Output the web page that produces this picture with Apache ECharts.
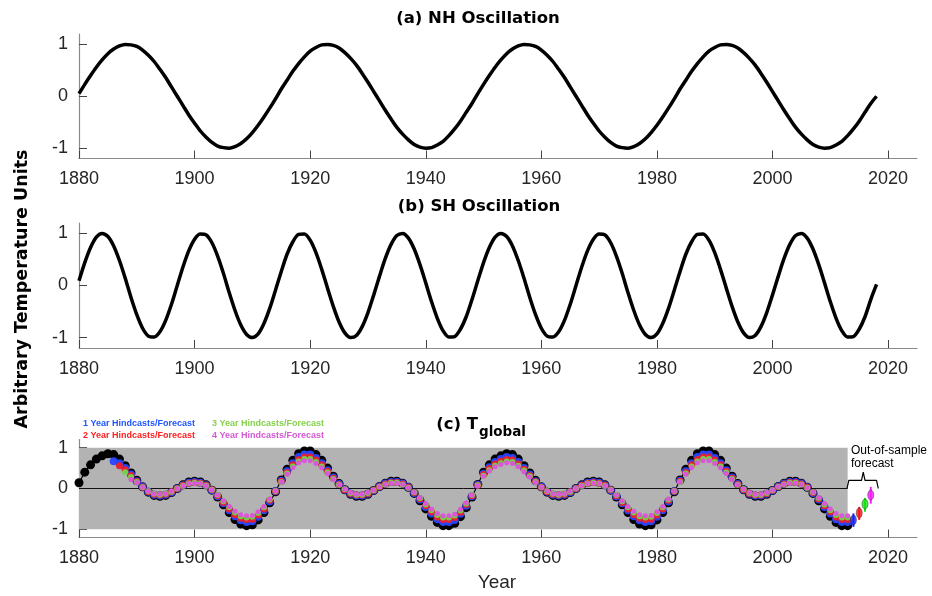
<!DOCTYPE html>
<html>
<head>
<meta charset="utf-8">
<script src="https://cdn.jsdelivr.net/npm/echarts@6/dist/echarts.min.js"></script>
<style>
  html, body { margin: 0; padding: 0; background: #fff; }
  #chart { width: 932px; height: 596px; }
</style>
</head>
<body>
<div id="chart"></div>
<script>
// yearly values
const startYear = 1880;
const xTicks = [1880, 1900, 1920, 1940, 1960, 1980, 2000, 2020];
const yTicks = [-1, 0, 1];

// (a) NH oscillation, 1880-2018
const nhValues = [
  0.05, 0.23, 0.40, 0.56, 0.70, 0.82, 0.91, 0.97, 1.00, 0.99,
  0.96, 0.89, 0.79, 0.67, 0.52, 0.36, 0.18, 0.00, -0.18, -0.36,
  -0.52, -0.67, -0.79, -0.89, -0.96, -0.99, -1.00, -0.97, -0.91, -0.82,
  -0.70, -0.56, -0.40, -0.23, -0.05, 0.14, 0.31, 0.48, 0.63, 0.76,
  0.87, 0.94, 0.99, 1.00, 0.98, 0.93, 0.84, 0.73, 0.60, 0.44,
  0.27, 0.09, -0.09, -0.27, -0.44, -0.60, -0.73, -0.84, -0.93, -0.98,
  -1.00, -0.99, -0.94, -0.87, -0.76, -0.63, -0.48, -0.31, -0.14, 0.05,
  0.23, 0.40, 0.56, 0.70, 0.82, 0.91, 0.97, 1.00, 0.99, 0.96,
  0.89, 0.79, 0.67, 0.52, 0.36, 0.18, 0.00, -0.18, -0.36, -0.52,
  -0.67, -0.79, -0.89, -0.96, -0.99, -1.00, -0.97, -0.91, -0.82, -0.70,
  -0.56, -0.40, -0.23, -0.05, 0.14, 0.31, 0.48, 0.63, 0.76, 0.87,
  0.94, 0.99, 1.00, 0.98, 0.93, 0.84, 0.73, 0.60, 0.44, 0.27,
  0.09, -0.09, -0.27, -0.44, -0.60, -0.73, -0.84, -0.93, -0.98, -1.00,
  -0.99, -0.94, -0.87, -0.76, -0.63, -0.48, -0.31, -0.14, 0.00
];

// (b) SH oscillation, 1880-2018
const shValues = [
  0.09, 0.44, 0.73, 0.93, 1.00, 0.94, 0.76, 0.48, 0.14, -0.23,
  -0.56, -0.82, -0.97, -0.99, -0.89, -0.67, -0.36, 0.00, 0.36, 0.67,
  0.89, 0.99, 0.97, 0.82, 0.56, 0.23, -0.14, -0.48, -0.76, -0.94,
  -1.00, -0.93, -0.73, -0.44, -0.09, 0.27, 0.60, 0.84, 0.98, 0.99,
  0.87, 0.63, 0.31, -0.05, -0.40, -0.70, -0.91, -1.00, -0.96, -0.79,
  -0.52, -0.18, 0.18, 0.52, 0.79, 0.96, 1.00, 0.91, 0.70, 0.40,
  0.05, -0.31, -0.63, -0.87, -0.99, -0.98, -0.84, -0.60, -0.27, 0.09,
  0.44, 0.73, 0.93, 1.00, 0.94, 0.76, 0.48, 0.14, -0.23, -0.56,
  -0.82, -0.97, -0.99, -0.89, -0.67, -0.36, 0.00, 0.36, 0.67, 0.89,
  0.99, 0.97, 0.82, 0.56, 0.23, -0.14, -0.48, -0.76, -0.94, -1.00,
  -0.93, -0.73, -0.44, -0.09, 0.27, 0.60, 0.84, 0.98, 0.99, 0.87,
  0.63, 0.31, -0.05, -0.40, -0.70, -0.91, -1.00, -0.96, -0.79, -0.52,
  -0.18, 0.18, 0.52, 0.79, 0.96, 1.00, 0.91, 0.70, 0.40, 0.05,
  -0.31, -0.63, -0.87, -0.99, -0.98, -0.84, -0.60, -0.27, 0.02
];

// (c) "Observed" T_global, 1880-2013
const observed = [
  0.14, 0.40, 0.58, 0.72, 0.80, 0.85, 0.83, 0.72, 0.56, 0.38,
  0.20, 0.04, -0.09, -0.17, -0.19, -0.17, -0.10, 0.00, 0.09, 0.16,
  0.18, 0.16, 0.09, -0.04, -0.21, -0.40, -0.59, -0.76, -0.87, -0.91,
  -0.89, -0.77, -0.59, -0.35, -0.08, 0.21, 0.47, 0.69, 0.85, 0.92,
  0.92, 0.83, 0.69, 0.50, 0.30, 0.12, -0.03, -0.14, -0.19, -0.19,
  -0.14, -0.05, 0.05, 0.13, 0.18, 0.18, 0.13, 0.03, -0.12, -0.30,
  -0.50, -0.68, -0.83, -0.91, -0.91, -0.85, -0.69, -0.47, -0.21, 0.10,
  0.40, 0.58, 0.72, 0.80, 0.85, 0.83, 0.72, 0.56, 0.38, 0.20,
  0.04, -0.09, -0.17, -0.19, -0.17, -0.10, 0.00, 0.09, 0.16, 0.18,
  0.16, 0.09, -0.04, -0.21, -0.40, -0.59, -0.76, -0.87, -0.91, -0.89,
  -0.77, -0.59, -0.35, -0.08, 0.21, 0.47, 0.69, 0.85, 0.92, 0.92,
  0.83, 0.69, 0.50, 0.30, 0.12, -0.03, -0.14, -0.19, -0.19, -0.14,
  -0.05, 0.05, 0.13, 0.18, 0.18, 0.13, 0.03, -0.12, -0.30, -0.50,
  -0.68, -0.83, -0.91, -0.91
];

// hindcasts: 1 year from 1886, 2 year from 1887, 3 year from 1888, 4 year from 1889
const hind1Start = 1886;
const hind1 = [
  0.67, 0.62, 0.50, 0.34,
  0.18, 0.04, -0.08, -0.15, -0.17, -0.15, -0.09, 0.00, 0.08, 0.14,
  0.16, 0.14, 0.08, -0.04, -0.19, -0.36, -0.53, -0.68, -0.78, -0.82,
  -0.80, -0.69, -0.53, -0.32, -0.07, 0.19, 0.42, 0.62, 0.77, 0.83,
  0.83, 0.75, 0.62, 0.45, 0.27, 0.11, -0.03, -0.13, -0.17, -0.17,
  -0.13, -0.05, 0.05, 0.12, 0.16, 0.16, 0.12, 0.03, -0.11, -0.27,
  -0.45, -0.61, -0.75, -0.82, -0.82, -0.77, -0.62, -0.42, -0.19, 0.09,
  0.36, 0.52, 0.65, 0.72, 0.77, 0.75, 0.65, 0.50, 0.34, 0.18,
  0.04, -0.08, -0.15, -0.17, -0.15, -0.09, 0.00, 0.08, 0.14, 0.16,
  0.14, 0.08, -0.04, -0.19, -0.36, -0.53, -0.68, -0.78, -0.82, -0.80,
  -0.69, -0.53, -0.32, -0.07, 0.19, 0.42, 0.62, 0.77, 0.83, 0.83,
  0.75, 0.62, 0.45, 0.27, 0.11, -0.03, -0.13, -0.17, -0.17, -0.13,
  -0.05, 0.05, 0.12, 0.16, 0.16, 0.12, 0.03, -0.11, -0.27, -0.45,
  -0.61, -0.75, -0.82, -0.82
];
const hind2Start = 1887;
const hind2 = [
  0.56, 0.46, 0.32,
  0.17, 0.03, -0.08, -0.14, -0.16, -0.14, -0.08, 0.00, 0.08, 0.13,
  0.15, 0.13, 0.08, -0.03, -0.18, -0.34, -0.50, -0.64, -0.73, -0.76,
  -0.75, -0.65, -0.50, -0.29, -0.07, 0.18, 0.39, 0.58, 0.71, 0.77,
  0.77, 0.70, 0.58, 0.42, 0.25, 0.10, -0.03, -0.12, -0.16, -0.16,
  -0.12, -0.04, 0.04, 0.11, 0.15, 0.15, 0.11, 0.03, -0.10, -0.25,
  -0.42, -0.57, -0.70, -0.76, -0.76, -0.71, -0.58, -0.39, -0.18, 0.08,
  0.34, 0.49, 0.60, 0.67, 0.71, 0.70, 0.60, 0.47, 0.32, 0.17,
  0.03, -0.08, -0.14, -0.16, -0.14, -0.08, 0.00, 0.08, 0.13, 0.15,
  0.13, 0.08, -0.03, -0.18, -0.34, -0.50, -0.64, -0.73, -0.76, -0.75,
  -0.65, -0.50, -0.29, -0.07, 0.18, 0.39, 0.58, 0.71, 0.77, 0.77,
  0.70, 0.58, 0.42, 0.25, 0.10, -0.03, -0.12, -0.16, -0.16, -0.12,
  -0.04, 0.04, 0.11, 0.15, 0.15, 0.11, 0.03, -0.10, -0.25, -0.42,
  -0.57, -0.70, -0.76, -0.76
];
const hind3Start = 1888;
const hind3 = [
  0.40, 0.28,
  0.16, 0.03, -0.07, -0.13, -0.15, -0.13, -0.08, 0.00, 0.07, 0.12,
  0.14, 0.12, 0.07, -0.03, -0.16, -0.31, -0.46, -0.59, -0.68, -0.71,
  -0.69, -0.60, -0.46, -0.27, -0.06, 0.16, 0.37, 0.54, 0.66, 0.72,
  0.72, 0.65, 0.54, 0.39, 0.23, 0.09, -0.02, -0.11, -0.15, -0.15,
  -0.11, -0.04, 0.04, 0.10, 0.14, 0.14, 0.10, 0.02, -0.09, -0.23,
  -0.39, -0.53, -0.65, -0.71, -0.71, -0.66, -0.54, -0.37, -0.16, 0.08,
  0.31, 0.45, 0.56, 0.62, 0.66, 0.65, 0.56, 0.44, 0.30, 0.16,
  0.03, -0.07, -0.13, -0.15, -0.13, -0.08, 0.00, 0.07, 0.12, 0.14,
  0.12, 0.07, -0.03, -0.16, -0.31, -0.46, -0.59, -0.68, -0.71, -0.69,
  -0.60, -0.46, -0.27, -0.06, 0.16, 0.37, 0.54, 0.66, 0.72, 0.72,
  0.65, 0.54, 0.39, 0.23, 0.09, -0.02, -0.11, -0.15, -0.15, -0.11,
  -0.04, 0.04, 0.10, 0.14, 0.14, 0.10, 0.02, -0.09, -0.23, -0.39,
  -0.53, -0.65, -0.71, -0.71
];
const hind4Start = 1889;
const hind4 = [
  0.22,
  0.15, 0.03, -0.07, -0.13, -0.14, -0.13, -0.07, 0.00, 0.07, 0.12,
  0.13, 0.12, 0.07, -0.03, -0.16, -0.30, -0.44, -0.56, -0.64, -0.67,
  -0.66, -0.57, -0.44, -0.26, -0.06, 0.16, 0.35, 0.51, 0.63, 0.68,
  0.68, 0.61, 0.51, 0.37, 0.22, 0.09, -0.02, -0.10, -0.14, -0.14,
  -0.10, -0.04, 0.04, 0.10, 0.13, 0.13, 0.10, 0.02, -0.09, -0.22,
  -0.37, -0.50, -0.61, -0.67, -0.67, -0.63, -0.51, -0.35, -0.16, 0.07,
  0.30, 0.43, 0.53, 0.59, 0.63, 0.61, 0.53, 0.41, 0.28, 0.15,
  0.03, -0.07, -0.13, -0.14, -0.13, -0.07, 0.00, 0.07, 0.12, 0.13,
  0.12, 0.07, -0.03, -0.16, -0.30, -0.44, -0.56, -0.64, -0.67, -0.66,
  -0.57, -0.44, -0.26, -0.06, 0.16, 0.35, 0.51, 0.63, 0.68, 0.68,
  0.61, 0.51, 0.37, 0.22, 0.09, -0.02, -0.10, -0.14, -0.14, -0.10,
  -0.04, 0.04, 0.10, 0.13, 0.13, 0.10, 0.02, -0.09, -0.22, -0.37,
  -0.50, -0.61, -0.67, -0.67
];

// out-of-sample forecasts (1..4 year) with their ranges
const forecastYears = [2014, 2015, 2016, 2017];
const forecastMid = [-0.77, -0.60, -0.38, -0.16];
const forecastLow = [-0.94, -0.77, -0.57, -0.37];
const forecastHigh = [-0.61, -0.45, -0.23, 0.04];

// shaded "observed" period and bracket over the forecasts
const shadeYears = [1880, 2013];
const shadeRange = [-1, 1];
const bracketX = [2012.9, 2013.2, 2015.4, 2015.7, 2016.0, 2018.0, 2018.3];
const bracketY = [0.01, 0.20, 0.20, 0.40, 0.20, 0.20, 0.00];

const FONT = '"Liberation Sans", Arial, Helvetica, sans-serif';
const WIDE = '"DejaVu Sans", "Liberation Sans", sans-serif';
const hindColors = ['#2846ff', '#f0202a', '#6fd84a', '#e050e0'];
const forecastColors = ['#1f1fff', '#ff1414', '#14e614', '#ff18ff'];
const legendColors = ['#1f55ff', '#ff2020', '#86d14e', '#d35ad3'];

const toPairs = (start, arr) => arr.map((v, i) => [start + i, v]);

function xAxisFor(idx) {
  return {
    type: 'value', gridIndex: idx, min: 1880, max: 2025,
    axisLine: { show: true, onZero: false, lineStyle: { color: '#8a8a8a', width: 1.2 } },
    axisTick: { show: true, inside: true, length: 8, customValues: xTicks,
      lineStyle: { color: '#444', width: 1 } },
    axisLabel: { customValues: xTicks, fontSize: 18, color: '#262626',
      fontFamily: FONT, margin: 12, formatter: (v) => String(v) },
    splitLine: { show: false }
  };
}
function yAxisFor(idx) {
  return {
    type: 'value', gridIndex: idx, min: -1.2, max: 1.2,
    axisLine: { show: true, onZero: false, lineStyle: { color: '#8a8a8a', width: 1.2 } },
    axisTick: { show: true, inside: true, length: 8, customValues: yTicks,
      lineStyle: { color: '#444', width: 1 } },
    axisLabel: { customValues: yTicks, fontSize: 18, color: '#262626',
      fontFamily: FONT, margin: 11, formatter: (v) => String(v) },
    splitLine: { show: false }
  };
}

const hindSeries = [
  [hind1Start, hind1, 8], [hind2Start, hind2, 7],
  [hind3Start, hind3, 6], [hind4Start, hind4, 5]
].map((h, k) => ({
  type: 'scatter', xAxisIndex: 2, yAxisIndex: 2, z: 4 + k,
  symbol: 'circle', symbolSize: h[2],
  itemStyle: { color: hindColors[k], opacity: 0.95 },
  data: toPairs(h[0], h[1])
}));

const labelText = (text, x, y, font, color, align) => ({
  type: 'text', x: x, y: y,
  style: { text: text, font: font, fill: color || '#000',
    align: align || 'center', textAlign: align || 'center',
    verticalAlign: 'middle', textVerticalAlign: 'middle' }
});

const chart = echarts.init(document.getElementById('chart'), null, { renderer: 'canvas' });
chart.setOption({
  animation: false,
  backgroundColor: '#fff',
  grid: [
    { left: 79, right: 15, top: 34, height: 124.5 },
    { left: 79, right: 15, top: 223, height: 125 },
    { left: 79, right: 15, top: 439.5, height: 98 }
  ],
  xAxis: [xAxisFor(0), xAxisFor(1), xAxisFor(2)],
  yAxis: [yAxisFor(0), yAxisFor(1), yAxisFor(2)],
  series: [
    {
      type: 'line', xAxisIndex: 0, yAxisIndex: 0, data: toPairs(startYear, nhValues),
      showSymbol: false, smooth: 0.3, lineStyle: { color: '#000', width: 3.5 }
    },
    {
      type: 'line', xAxisIndex: 1, yAxisIndex: 1, data: toPairs(startYear, shValues),
      showSymbol: false, smooth: 0.3, lineStyle: { color: '#000', width: 3.5 }
    },
    {
      // zero line plus grey shading of the observed period
      type: 'line', xAxisIndex: 2, yAxisIndex: 2, z: 1,
      data: [[shadeYears[0], 0], [shadeYears[1], 0]],
      showSymbol: false, lineStyle: { color: '#111', width: 1 },
      markArea: {
        silent: true,
        itemStyle: { color: '#b3b3b3' },
        data: [[{ coord: [shadeYears[0], shadeRange[0]] }, { coord: [shadeYears[1], shadeRange[1]] }]]
      }
    },
    {
      type: 'line', xAxisIndex: 2, yAxisIndex: 2, z: 3,
      data: toPairs(startYear, observed),
      symbol: 'circle', symbolSize: 9, showAllSymbol: true,
      itemStyle: { color: '#000' }, lineStyle: { color: '#000', width: 1.2 }
    },
    ...hindSeries,
    {
      type: 'custom', xAxisIndex: 2, yAxisIndex: 2, z: 9,
      data: forecastYears.map((y, i) => [y, forecastLow[i], forecastHigh[i]]),
      encode: { x: 0, y: [1, 2] },
      renderItem: function (params, api) {
        const p1 = api.coord([api.value(0), api.value(1)]);
        const p2 = api.coord([api.value(0), api.value(2)]);
        return {
          type: 'line',
          shape: { x1: p1[0], y1: p1[1], x2: p2[0], y2: p2[1] },
          style: { stroke: forecastColors[params.dataIndex], lineWidth: 2 }
        };
      }
    },
    {
      type: 'scatter', xAxisIndex: 2, yAxisIndex: 2, z: 10,
      symbol: 'circle', symbolSize: [6, 10],
      data: forecastYears.map((y, i) => ({
        value: [y, forecastMid[i]],
        itemStyle: { color: forecastColors[i], borderColor: '#333', borderWidth: 0.6 }
      }))
    },
    {
      type: 'line', xAxisIndex: 2, yAxisIndex: 2, z: 10,
      data: bracketX.map((x, i) => [x, bracketY[i]]),
      showSymbol: false, lineStyle: { color: '#000', width: 1.2 }
    }
  ],
  graphic: [
    labelText('(a) NH Oscillation', 478, 19, 'bold 16.5px ' + WIDE),
    labelText('(b) SH Oscillation', 479, 207, 'bold 16.5px ' + WIDE),
    labelText('(c) T', 478, 425, 'bold 16.5px ' + WIDE, '#000', 'right'),
    labelText('global', 479, 432, 'bold 13.5px ' + WIDE, '#000', 'left'),
    labelText('Year', 497, 583, '19px ' + FONT, '#262626'),
    {
      type: 'text', x: 22, y: 289, rotation: Math.PI / 2,
      style: { text: 'Arbitrary Temperature Units', font: 'bold 17.5px ' + WIDE, fill: '#000',
        align: 'center', textAlign: 'center', verticalAlign: 'middle', textVerticalAlign: 'middle' }
    },
    labelText('1 Year Hindcasts/Forecast', 83, 424, 'bold 9px ' + FONT, legendColors[0], 'left'),
    labelText('2 Year Hindcasts/Forecast', 83, 436, 'bold 9px ' + FONT, legendColors[1], 'left'),
    labelText('3 Year Hindcasts/Forecast', 212, 424, 'bold 9px ' + FONT, legendColors[2], 'left'),
    labelText('4 Year Hindcasts/Forecast', 212, 436, 'bold 9px ' + FONT, legendColors[3], 'left'),
    labelText('\u201cObserved\u201d', 153, 454, '10px ' + FONT, '#000'),
    labelText('Out-of-sample', 851, 451, '12px ' + FONT, '#000', 'left'),
    labelText('forecast', 851, 464, '12px ' + FONT, '#000', 'left')
  ]
});
</script>
</body>
</html>
